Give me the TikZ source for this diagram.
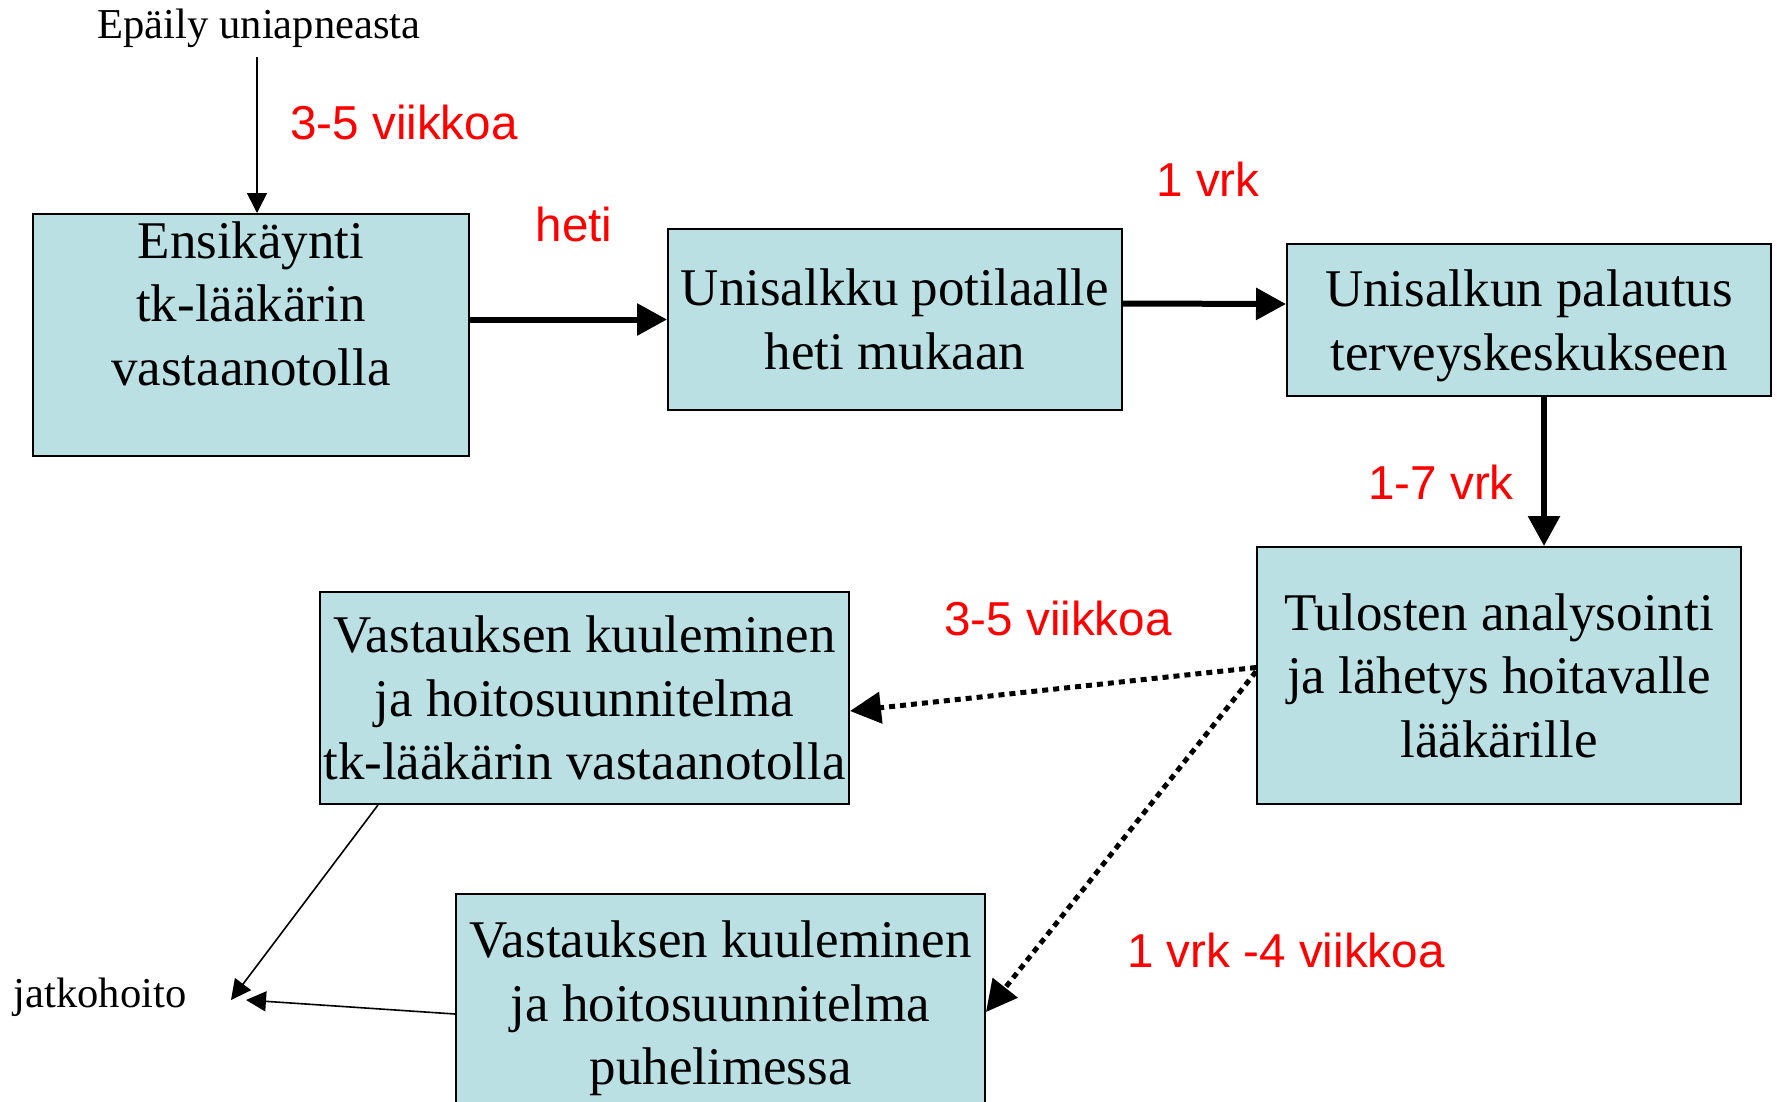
\documentclass[tikz,border=0pt]{standalone}
\usepackage{fontspec}
\setmainfont{Liberation Serif}
\newfontfamily\redsans{Liberation Sans}
\usetikzlibrary{arrows.meta}
\definecolor{boxfill}{HTML}{BBE0E3}
\definecolor{labelred}{HTML}{FF0000}
\newcommand{\nodepth}[1]{\raisebox{0pt}[\height][0pt]{#1}}
\begin{document}
\begin{tikzpicture}[x=1pt,y=-1pt,
  box/.style={draw=black, line width=2pt, fill=boxfill, inner sep=0pt, align=center,
    font=\fontsize{53}{63.5}\selectfont},
  redlbl/.style={text=labelred, inner sep=0pt, font=\redsans\fontsize{47.6}{57}\selectfont},
  plainlbl/.style={inner sep=0pt, font=\fontsize{42.6}{51}\selectfont},
  thickarrow/.style={line width=6pt, -{Triangle[length=30pt,width=31pt]}},
  thinarrow/.style={line width=1.6pt, -{Triangle[length=20pt,width=20pt]}},
  dotarrow/.style={line width=5pt, dash pattern=on 6pt off 5pt, -{Triangle[length=31pt,width=31pt]}}
]
\useasboundingbox (0,0) rectangle (1777,1101);
\clip (0,0) rectangle (1777,1101);

% boxes
\node[box, minimum width=436pt, minimum height=242pt] (box1) at (251,335)
  {Ensikäynti\\tk-lääkärin\\vastaanotolla\\\mbox{}};
\node[box, minimum width=454pt, minimum height=181pt] (box2) at (895,319.5)
  {Unisalkku potilaalle\\heti mukaan};
\node[box, minimum width=484pt, minimum height=152pt] (box3) at (1529,320)
  {Unisalkun palautus\\\nodepth{terveyskeskukseen}};
\node[box, minimum width=484pt, minimum height=257pt] (box4) at (1499,675.5)
  {Tulosten analysointi\\ja lähetys hoitavalle\\lääkärille};
\node[box, minimum width=529pt, minimum height=212pt] (box5) at (584.5,698)
  {Vastauksen kuuleminen\\ja hoitosuunnitelma\\tk-lääkärin vastaanotolla};
\node[box, minimum width=529pt, minimum height=218pt] (box6) at (720.5,1003)
  {Vastauksen kuuleminen\\ja hoitosuunnitelma\\\nodepth{puhelimessa}};

% plain texts
\node[plainlbl, anchor=base] (epaily) at (259,38) {Epäily uniapneasta};
\node[plainlbl, anchor=base] (jatko) at (100,1007) {jatkohoito};
\coordinate (jt1) at (231,1000);
\coordinate (jt2) at (246,1000);

% red labels
\node[redlbl] (l1) at (404,122) {3-5 viikkoa};
\node[redlbl] (l2) at (574,224) {heti};
\node[redlbl] (l3) at (1208,179) {1 vrk};
\node[redlbl] (l4) at (1441,482) {1-7 vrk};
\node[redlbl] (l5) at (1058,618) {3-5 viikkoa};
\node[redlbl] (l6) at (1286,950) {1 vrk -4 viikkoa};

% connectors
\draw[thinarrow] ([xshift=-2pt,yshift=-10pt]epaily.south) -- ([xshift=6pt]box1.north);
\draw[thickarrow] (box1.east |- box2.west) -- (box2.west);
\draw[thickarrow] ([yshift=16pt]box2.east) -- ([yshift=16pt]box3.west);
\draw[thickarrow] ([xshift=15pt]box3.south) -- ([xshift=15pt]box3.south |- box4.north);
\draw[dotarrow] ([yshift=8pt]box4.west) -- ([yshift=-13pt]box5.east);
\draw[dotarrow] ([yshift=4pt]box4.west) -- ([yshift=-9pt]box6.east);
\draw[thinarrow] ([xshift=59pt]box5.south west) -- (jt1);
\draw[thinarrow] ([yshift=-11pt]box6.west) -- (jt2);
\end{tikzpicture}
\end{document}
